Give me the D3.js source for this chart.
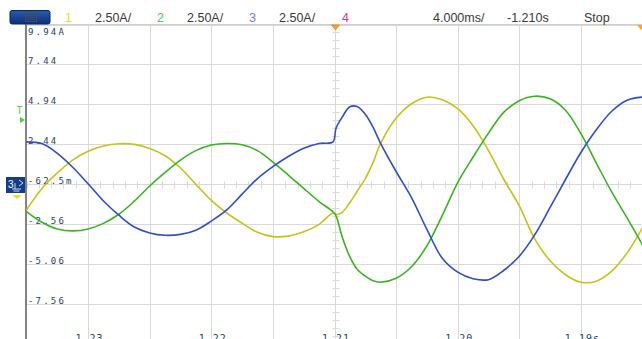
<!DOCTYPE html>
<html lang="en">
<head>
<meta charset="UTF-8">
<title>Scope capture</title>
<style>
  body { margin: 0; background: #fff; }
  svg { display: block; }
  .hdr { font-family: "Liberation Sans", Arial, sans-serif; font-size: 12.5px; fill: #3a3a3a; }
  .ylab { font-family: "DejaVu Sans Mono", monospace; font-size: 9px; fill: #24456f; letter-spacing: 2.2px; }
  .xlab { font-family: "DejaVu Sans Mono", monospace; font-size: 10px; fill: #24456f; letter-spacing: 1px; }
</style>
</head>
<body>
<div id="chart"></div>
<script src="https://d3js.org/d3.v7.min.js"></script>
<script>
  // time relative to trigger (ms), 4 ms/div
  const timeMs = [-20,-19,-18,-17,-16,-15,-14,-13,-12,-11,-10,-9,-8,-7,-6,-5,-4,-3,-2,-1,
    -0.1,0.1,0.5,1,1.5,2,2.5,3,4,5,6,7,8,9,10,11,12,13,14,15,16,17,18,19,20];

  // channel currents (A)
  const ch1 = [-1.69,-0.35,0.63,1.44,1.99,2.32,2.46,2.42,2.16,1.71,0.94,-0.09,-1.09,-1.88,-2.52,-3.09,-3.36,-3.33,-3.06,-2.59,
    -1.88,-1.97,-1.84,-1.22,-0.47,0.28,1.28,2.50,4.06,4.97,5.38,5.22,4.66,3.59,2.03,0.22,-1.44,-3.50,-4.88,-5.75,-6.22,-6.16,-5.53,-4.38,-2.81];
  const ch2 = [-1.79,-2.46,-2.88,-3.00,-2.88,-2.53,-1.96,-1.14,-0.19,0.66,1.44,2.03,2.38,2.48,2.40,2.03,1.31,0.50,-0.34,-1.16,
    -1.81,-2.06,-3.38,-4.63,-5.44,-5.84,-6.13,-6.22,-5.97,-5.25,-3.94,-2.03,0.03,1.63,3.13,4.44,5.16,5.44,5.28,4.56,3.09,1.25,-0.56,-2.19,-3.88];
  const ch3 = [2.58,2.47,1.86,0.99,-0.05,-1.13,-2.02,-2.76,-3.13,-3.28,-3.22,-2.96,-2.39,-1.69,-0.70,0.28,1.03,1.66,2.18,2.48,
    2.58,3.44,4.13,4.78,4.78,4.31,3.50,2.47,0.72,-0.91,-2.91,-4.72,-5.59,-6.00,-6.06,-5.47,-4.59,-3.25,-1.53,0.22,1.91,3.34,4.50,5.19,5.39];

  const yTickLabels = ["9.94A","7.44","4.94","2.44","-62.5m","-2.56","-5.06","-7.56"];
  const xTickTimes = [-16,-8,0,8,16];
  const xTickLabels = ["-1.23","-1.22","-1.21","-1.20","-1.19s"];

  const chNames = ["1","2","3","4"];
  const chScales = ["2.50A/","2.50A/","2.50A/",""];
  const chColors = ["#e2de1e","#48d040","#6a86ee","#e0368e"];
  const traceColors = ["#c8c31c","#3cb422","#2f50c6"];
  const timebase = ["4.000ms/","-1.210s","Stop"];

  const width = 642, height = 339;
  const svg = d3.select("#chart").append("svg")
    .attr("width", width)
    .attr("height", height);

  const x = d3.scaleLinear().domain([-20, 20]).range([26.5, 642.5]);
  const y = d3.scaleLinear().domain([-10.0625, 9.9375]).range([343.5, 24.5]);
  const crisp = v => Math.round(v) + 0.5;

  // grid
  const grid = svg.append("g").attr("stroke", "#d9d9d9").attr("stroke-width", 1);
  grid.selectAll("line.v").data(d3.range(-16, 20, 4)).join("line")
    .attr("x1", d => crisp(x(d))).attr("x2", d => crisp(x(d)))
    .attr("y1", 24).attr("y2", height);
  const yGrid = d3.range(0, 8).map(k => 9.9375 - 2.5 * k);
  grid.selectAll("line.h").data(yGrid).join("line")
    .attr("x1", 26).attr("x2", width)
    .attr("y1", d => crisp(y(d))).attr("y2", d => crisp(y(d)));

  // minor ticks on the centre cross
  const cx = crisp(x(0)), cy = crisp(y(-0.0625));
  grid.selectAll("line.tv").data(d3.range(-10.0625, 9.94, 0.5)).join("line")
    .attr("x1", cx - 3).attr("x2", cx + 4)
    .attr("y1", d => crisp(y(d))).attr("y2", d => crisp(y(d)));
  grid.selectAll("line.th").data(d3.range(-20, 20.01, 0.8)).join("line")
    .attr("x1", d => crisp(x(d))).attr("x2", d => crisp(x(d)))
    .attr("y1", cy - 3).attr("y2", cy + 4);

  // left axis line
  svg.append("line").attr("x1", 26).attr("x2", 26).attr("y1", 24).attr("y2", height)
    .attr("stroke", "#5a5a5a").attr("stroke-width", 1.5);

  // y labels
  svg.selectAll("text.ylab").data(yTickLabels).join("text")
    .attr("class", "ylab")
    .attr("x", 28)
    .attr("y", (d, i) => i === 0 ? 35 : crisp(y(yGrid[i])) - 1)
    .text(d => d);

  // x labels (cut by the bottom edge, as on the screen grab)
  svg.selectAll("text.xlab").data(xTickTimes).join("text")
    .attr("class", "xlab")
    .attr("x", d => x(d) - 2)
    .attr("y", 342)
    .attr("text-anchor", "middle")
    .text((d, i) => xTickLabels[i]);

  // traces
  const line = d3.line()
    .x((d, i) => x(timeMs[i]))
    .y(d => y(d))
    .curve(d3.curveCatmullRom.alpha(0.5));
  [ch1, ch2, ch3].forEach((s, i) => {
    svg.append("path").datum(s)
      .attr("d", line)
      .attr("fill", "none")
      .attr("stroke", traceColors[i])
      .attr("stroke-width", 1.6)
      .attr("stroke-linejoin", "round");
  });

  // header
  svg.append("rect").attr("x", 0).attr("y", 0).attr("width", width).attr("height", 24).attr("fill", "#fff");
  svg.append("line").attr("x1", 26).attr("x2", width).attr("y1", 24.5).attr("y2", 24.5)
    .attr("stroke", "#cfcfcf");
  const grad = svg.append("defs").append("linearGradient").attr("id", "btn")
    .attr("x1", 0).attr("x2", 0).attr("y1", 0).attr("y2", 1);
  grad.append("stop").attr("offset", 0).attr("stop-color", "#2a5bb0");
  grad.append("stop").attr("offset", 1).attr("stop-color", "#0b2f78");
  svg.append("rect").attr("x", 10).attr("y", 10.5).attr("width", 40).attr("height", 13.5)
    .attr("rx", 2).attr("fill", "url(#btn)").attr("stroke", "#0a2860");
  svg.append("rect").attr("x", 25.5).attr("y", 13.5).attr("width", 11).attr("height", 8)
    .attr("fill", "none").attr("stroke", "#4a4a5a");
  [15.5, 17.5, 19.5].forEach(yy => svg.append("line").attr("x1", 27).attr("x2", 35)
    .attr("y1", yy).attr("y2", yy).attr("stroke", "#4a4a5a").attr("stroke-width", 0.8));

  const chX = [65, 157, 249, 342];
  const scX = [95, 187, 279];
  chNames.forEach((c, i) => {
    svg.append("text").attr("class", "hdr").attr("x", chX[i]).attr("y", 22)
      .style("fill", chColors[i]).text(c);
    if (chScales[i]) svg.append("text").attr("class", "hdr").attr("x", scX[i]).attr("y", 22).text(chScales[i]);
  });
  const tbX = [433, 507, 584];
  timebase.forEach((t, i) => svg.append("text").attr("class", "hdr").attr("x", tbX[i]).attr("y", 22).text(t));

  // trigger markers
  svg.append("path").attr("d", `M${cx - 4},25 L${cx + 4},25 L${cx},30 Z`)
    .attr("fill", "#f4a63a").attr("stroke", "#e08a1a").attr("stroke-width", 0.8);
  svg.append("path").attr("d", `M637,25 L645,25 L641,30 Z`).attr("fill", "#f4a63a");

  // left channel markers
  svg.append("text").attr("x", 16.5).attr("y", 114).attr("fill", "#4ad040")
    .attr("font-family", "Liberation Sans, Arial, sans-serif").attr("font-size", 10).text("T");
  svg.append("path").attr("d", "M20,117 L20,123 L25,120 Z").attr("fill", "#4ad040");
  svg.append("rect").attr("x", 6).attr("y", 177).attr("width", 19).attr("height", 16).attr("fill", "#143c8c");
  svg.append("text").attr("x", 8).attr("y", 188).attr("fill", "#ffffff")
    .attr("font-family", "Liberation Sans, Arial, sans-serif").attr("font-size", 10).text("3");
  svg.append("path").attr("d", "M15,183 L15,189 M12,189 L21,189 M13.5,191 L19.5,191 M19,180 L23,183 L19,186")
    .attr("stroke", "#ffffff").attr("fill", "none").attr("stroke-width", 0.8);
  svg.append("path").attr("d", "M12,195 L22,195 L17,199 Z").attr("fill", "#e8e030");
</script>
</body>
</html>
